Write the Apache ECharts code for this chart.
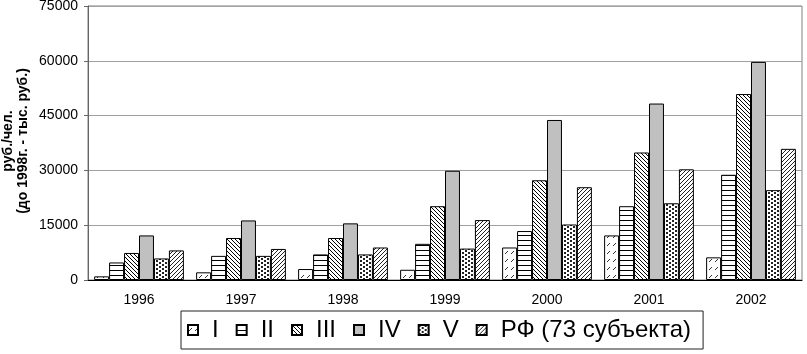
<!DOCTYPE html>
<html>
<head>
    <meta charset="UTF-8">
    <title>Bar chart</title>
    <script src="https://cdn.jsdelivr.net/npm/echarts@6/dist/echarts.min.js"></script>
</head>
<body style="margin:0;background:#fff;">
<div id="chart" style="width:807px;height:354px;"></div>
<script type="text/javascript">
    var years = ['1996', '1997', '1998', '1999', '2000', '2001', '2002'];
    var seriesNames = ['I', 'II', 'III', 'IV', 'V', 'РФ (73 субъекта)'];
    var valuesI = [1000, 2100, 3000, 2800, 8900, 12200, 6200];
    var valuesII = [4800, 6600, 7000, 9900, 13400, 20200, 28800];
    var valuesIII = [7400, 11500, 11500, 20200, 27300, 34900, 50900];
    var valuesIV = [12200, 16300, 15500, 29900, 43800, 48300, 59700];
    var valuesV = [5900, 6600, 7000, 8600, 15200, 21000, 24600];
    var valuesRF = [8100, 8500, 8900, 16400, 25400, 30300, 35900];
    var yTicks = [0, 15000, 30000, 45000, 60000, 75000];

    var font = "'Liberation Sans', Arial, sans-serif";

    // small canvas tiles used as hatch fills
    function pattern(w, h, draw) {
        var c = document.createElement('canvas');
        c.width = w;
        c.height = h;
        var g = c.getContext('2d');
        g.fillStyle = '#fff';
        g.fillRect(0, 0, w, h);
        g.fillStyle = '#000';
        draw(g);
        return {image: c, repeat: 'repeat'};
    }

    var fills = [
        // I: sparse short slashes
        pattern(6, 8, function (g) {
            g.fillStyle = '#333';
            for (var i = 0; i < 3; i++) g.fillRect(1 + i, 5 - i, 1, 1);
        }),
        // II: horizontal lines
        pattern(4, 5, function (g) {
            g.fillRect(0, 0, 4, 1);
        }),
        // III: dense backslash
        pattern(4, 4, function (g) {
            for (var i = 0; i < 4; i++) g.fillRect(i, i, 1, 1);
        }),
        '#c0c0c0',
        // V: dots
        pattern(6, 4, function (g) {
            g.fillStyle = '#222';
            g.fillRect(0, 0, 2, 2);
            g.fillRect(3, 2, 2, 2);
        }),
        // RF: dense slash
        pattern(4, 4, function (g) {
            g.fillStyle = '#222';
            for (var i = 0; i < 4; i++) g.fillRect(i, 3 - i, 1, 1);
        })
    ];

    var allValues = [valuesI, valuesII, valuesIII, valuesIV, valuesV, valuesRF];

    var series = allValues.map(function (vals, k) {
        return {
            name: seriesNames[k],
            type: 'bar',
            data: vals,
            barGap: '0%',
            barCategoryGap: '12%',
            itemStyle: {
                color: fills[k],
                borderColor: '#000',
                borderWidth: 1
            }
        };
    });

    var chart = echarts.init(document.getElementById('chart'));
    chart.setOption({
        animation: false,
        textStyle: {fontFamily: font},
        grid: {
            left: 88,
            right: 5,
            top: 6,
            bottom: 74,
            outerBoundsMode: 'none',
            containLabel: false,
            show: true,
            borderColor: '#808080',
            borderWidth: 1
        },
        // axis title, two rotated lines
        graphic: [{
            type: 'text',
            x: 16,
            y: 141,
            rotation: Math.PI / 2,
            style: {
                text: 'руб./чел.\n(до 1998г. - тыс. руб.)',
                font: 'bold 14px ' + font,
                fill: '#000',
                align: 'center',
                verticalAlign: 'middle',
                lineHeight: 15
            }
        }],
        legend: {
            data: seriesNames,
            left: 181,
            top: 311,
            padding: [7, 12, 7, 6],
            borderColor: '#222',
            borderWidth: 1,
            icon: 'rect',
            itemWidth: 10,
            itemHeight: 10,
            itemGap: 17,
            textStyle: {
                fontFamily: font,
                fontSize: 24,
                color: '#000',
                padding: [0, 0, 0, 9]
            }
        },
        xAxis: {
            type: 'category',
            data: years,
            axisLine: {lineStyle: {color: '#000', width: 1}},
            axisTick: {length: 4, lineStyle: {color: '#000'}},
            axisLabel: {
                fontFamily: font,
                fontSize: 14,
                color: '#000',
                margin: 13
            }
        },
        yAxis: {
            type: 'value',
            min: yTicks[0],
            max: yTicks[yTicks.length - 1],
            interval: yTicks[1] - yTicks[0],
            axisLine: {show: true, lineStyle: {color: '#666'}},
            axisTick: {show: true, length: 4, lineStyle: {color: '#666'}},
            axisLabel: {
                fontFamily: font,
                fontSize: 14,
                color: '#000',
                margin: 10,
                formatter: function (v) { return String(v); }
            },
            splitLine: {lineStyle: {color: '#a0a0a0'}}
        },
        series: series
    });
</script>
</body>
</html>
